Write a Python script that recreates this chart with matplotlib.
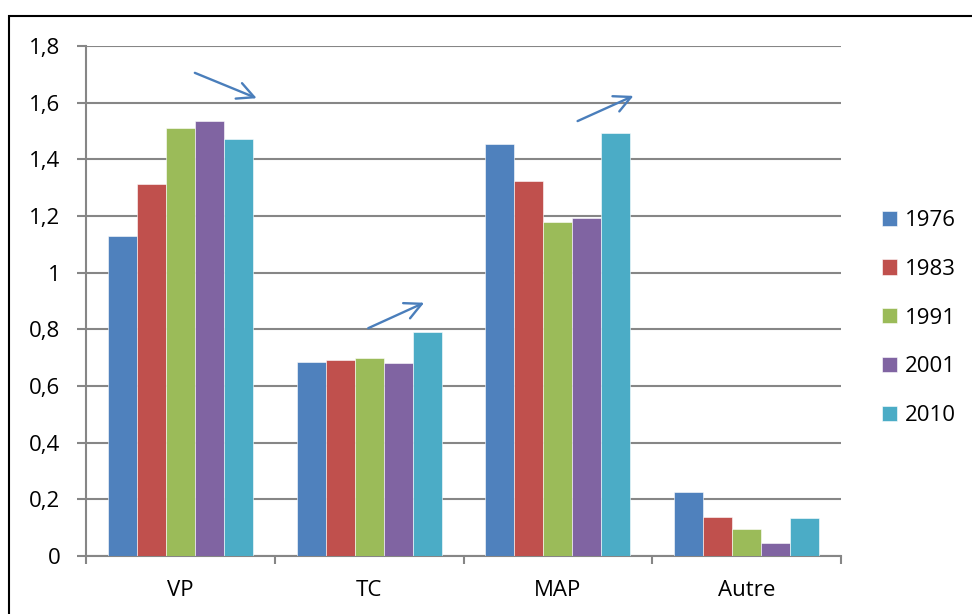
import matplotlib.pyplot as plt
import matplotlib.patches as mpatches
import numpy as np

plt.rcParams['font.family'] = ['Open Sans', 'DejaVu Sans']

categories = ['VP', 'TC', 'MAP', 'Autre']
years = ['1976', '1983', '1991', '2001', '2010']
v1976 = [1.128, 0.685, 1.453, 0.225]
v1983 = [1.312, 0.691, 1.325, 0.137]
v1991 = [1.510, 0.699, 1.178, 0.094]
v2001 = [1.537, 0.680, 1.193, 0.045]
v2010 = [1.470, 0.791, 1.493, 0.133]
series = [v1976, v1983, v1991, v2001, v2010]
couleurs = ['#4F81BD', '#C0504D', '#9BBB59', '#8064A2', '#4BACC6']

fs = 16

fig = plt.figure(figsize=(9.72, 6.14), dpi=100)
ax = fig.add_axes([86/972, 1-556/614, 755/972, 510/614])

x = np.arange(len(categories))
w = 1/6.5
for i, (vals, c) in enumerate(zip(series, couleurs)):
    ax.bar(x + (i-2)*w, vals, width=w, color=c, label=years[i],
           edgecolor='white', linewidth=0.4, zorder=3)

ax.set_xlim(-0.5, 3.5)
ax.set_ylim(0, 1.8)
yt = np.arange(0, 1.81, 0.2)
ax.set_yticks(yt)
ax.set_yticklabels([('%g' % round(v, 1)).replace('.', ',') for v in yt], fontsize=fs)
ax.yaxis.grid(True, color='#868686', linewidth=1.5, zorder=0)

ax.set_xticks(x)
ax.set_xticklabels(categories, fontsize=fs)
ax.set_xticks(np.arange(-0.5, 3.6, 1), minor=True)
ax.tick_params(axis='x', which='major', length=0, pad=17)
ax.tick_params(axis='x', which='minor', length=6, width=1.5, color='#868686')
ax.tick_params(axis='y', length=6.5, width=1.5, color='#868686', pad=12)

for s in ['top', 'right']:
    ax.spines[s].set_visible(False)
for s in ['left', 'bottom']:
    ax.spines[s].set_color('#868686')
    ax.spines[s].set_linewidth(1.5)

# fleches de tendance
fl = dict(arrowstyle='->', color='#4A7EBB', lw=1.7, mutation_scale=30)
ax.annotate('', xy=(0.418, 1.612), xytext=(0.063, 1.709), arrowprops=fl, annotation_clip=False)
ax.annotate('', xy=(1.305, 0.898), xytext=(0.982, 0.800), arrowprops=fl, annotation_clip=False)
ax.annotate('', xy=(2.414, 1.628), xytext=(2.091, 1.531), arrowprops=fl, annotation_clip=False)

ax.legend(loc='center left', bbox_to_anchor=(882/972, 1-318/614), bbox_transform=fig.transFigure,
          frameon=False, fontsize=fs, handlelength=0.68, handleheight=0.68,
          labelspacing=1.25, handletextpad=0.35, borderaxespad=0, borderpad=0)

# cadre
fig.patches.append(mpatches.Rectangle((9/972, -0.1), 1.2, 1-16/614+0.1,
                                      transform=fig.transFigure, fill=False,
                                      edgecolor='black', linewidth=1.5))

plt.savefig('out.png', dpi=100)
